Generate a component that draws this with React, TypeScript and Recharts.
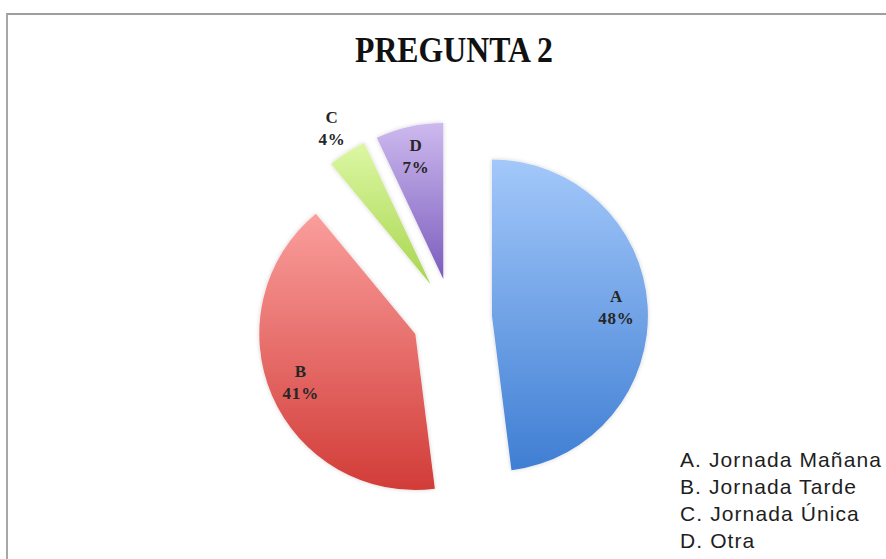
import React from "react";
import { PieChart, Pie, Sector, Legend } from "recharts";

const categories = ["A", "B", "C", "D"];
const legendNames = ["A. Jornada Mañana", "B. Jornada Tarde", "C. Jornada Única", "D. Otra"];
const values = [48, 41, 4, 7];
const topColors = ["#a3c8fa", "#fa9e9c", "#dcf7a4", "#cdb9ee"];
const bottomColors = ["#3f7ed3", "#d23c38", "#a8d64e", "#7b5cbd"];

const data = categories.map((c, i) => ({ letter: c, name: legendNames[i], value: values[i] }));

const RAD = Math.PI / 180;
const EXPLODE = 40;

const renderSlice = (props: any) => {
  const { cx, cy, outerRadius, startAngle, endAngle, midAngle, percent, index } = props;
  const ox = cx + EXPLODE * Math.cos(-midAngle * RAD);
  const oy = cy + EXPLODE * Math.sin(-midAngle * RAD);
  const outside = percent < 0.05;
  const lr = outside ? outerRadius + 28 : outerRadius * 0.8;
  const lx = ox + lr * Math.cos(-midAngle * RAD);
  const ly = oy + lr * Math.sin(-midAngle * RAD);
  const gid = `grad-${index}`;
  return (
    <g key={`slice-${index}`}>
      <defs>
        <linearGradient id={gid} x1="0" y1="0" x2="0" y2="1">
          <stop offset="0%" stopColor={topColors[index]} />
          <stop offset="100%" stopColor={bottomColors[index]} />
        </linearGradient>
        <filter id={`sh-${index}`} x="-20%" y="-20%" width="140%" height="140%">
          <feDropShadow dx="0" dy="0" stdDeviation="2" floodColor="#000" floodOpacity="0.18" />
        </filter>
      </defs>
      <Sector
        cx={ox}
        cy={oy}
        innerRadius={0}
        outerRadius={outerRadius}
        startAngle={startAngle}
        endAngle={endAngle}
        fill={`url(#${gid})`}
        stroke="none"
        filter={`url(#sh-${index})`}
      />
      <text
        x={lx}
        y={ly - 6}
        textAnchor="middle"
        fontFamily="'Liberation Serif', serif"
        fontWeight="bold"
        fontSize={17}
        letterSpacing={0.8}
        fill="#262626"
      >
        {categories[index]}
      </text>
      <text
        x={lx}
        y={ly + 16}
        textAnchor="middle"
        fontFamily="'Liberation Serif', serif"
        fontWeight="bold"
        fontSize={17}
        letterSpacing={0.8}
        fill="#262626"
      >
        {`${Math.round(percent * 100)}%`}
      </text>
    </g>
  );
};

const renderLegend = (props: any) => {
  const payload = props.payload || [];
  return (
    <div
      style={{
        fontFamily: "'Liberation Sans', Arial, sans-serif",
        fontSize: 21,
        lineHeight: "27px",
        color: "#1e1e1e",
        whiteSpace: "nowrap",
        letterSpacing: 1.1,
      }}
    >
      {payload.map((p: any, i: number) => (
        <div key={i}>{p.value}</div>
      ))}
    </div>
  );
};

export default function App() {
  return (
    <div style={{ position: "absolute", left: 0, top: 0, width: 886, height: 559, background: "#fff", overflow: "hidden" }}>
      <div
        style={{
          position: "absolute",
          left: 6,
          top: 13,
          width: 886,
          height: 559,
          borderTop: "2px solid #9e9e9e",
          borderLeft: "2px solid #a8a8a8",
        }}
      />
      <svg style={{ position: "absolute", left: 0, top: 0 }} width={886} height={80}>
        <text
          x={454}
          y={62}
          textAnchor="middle"
          fontFamily="'Liberation Serif', serif"
          fontWeight="bold"
          fontSize={35}
          textLength={198}
          lengthAdjust="spacingAndGlyphs"
          fill="#111"
        >
          PREGUNTA 2
        </text>
      </svg>
      <div style={{ position: "absolute", left: 0, top: 0 }}>
        <PieChart width={886} height={559}>
          <Pie
            data={data}
            dataKey="value"
            nameKey="name"
            cx={447}
            cy={313}
            outerRadius={156}
            startAngle={90}
            endAngle={-270}
            fill="none"
            stroke="none"
            labelLine={false}
            label={renderSlice}
            isAnimationActive={false}
          />
          <Legend
            content={renderLegend}
            wrapperStyle={{ position: "absolute", left: 680, top: 446, width: 220 }}
          />
        </PieChart>
      </div>
    </div>
  );
}
